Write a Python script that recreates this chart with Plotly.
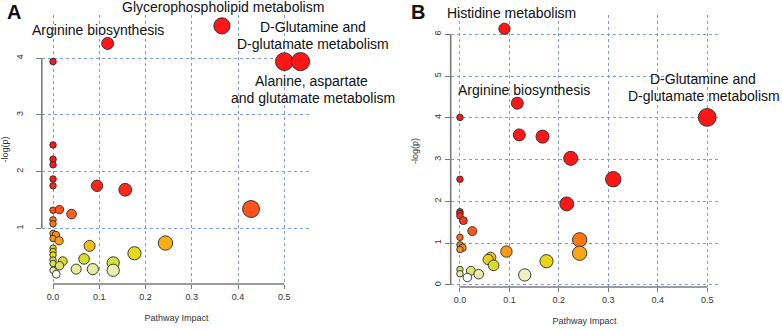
import numpy as np
import plotly.graph_objects as go

# ---------------- data ----------------
# Panel A
A_impact = [0.118, 0.365, 0.500, 0.535, 0.0, 0.0, 0.0, 0.0, 0.0, 0.0,
            0.095, 0.156, 0.0, 0.014, 0.040, 0.0, 0.0, 0.428, 0.0, 0.006,
            0.0, 0.013, 0.079, 0.243, 0.0, 0.0, 0.0, 0.176, 0.0, 0.021,
            0.0, 0.067, 0.014, 0.130, 0.050, 0.086, 0.130, 0.0, 0.007]
A_logp = [4.26, 4.57, 3.94, 3.94, 3.94, 2.47, 2.22, 2.12, 1.87, 1.75,
          1.75, 1.68, 1.32, 1.33, 1.25, 1.15, 1.08, 1.34, 0.91, 0.88,
          0.82, 0.78, 0.69, 0.74, 0.65, 0.59, 0.53, 0.56, 0.44, 0.42,
          0.38, 0.46, 0.34, 0.39, 0.28, 0.28, 0.26, 0.26, 0.19]

# Panel B
B_impact = [0.090, 0.116, 0.0, 0.120, 0.167, 0.224, 0.0, 0.500, 0.310, 0.216,
            0.0, 0.0, 0.0, 0.007, 0.025, 0.0, 0.0, 0.005, 0.0, 0.242,
            0.242, 0.094, 0.062, 0.057, 0.068, 0.175, 0.0, 0.0, 0.022, 0.038,
            0.015, 0.131]
B_logp = [6.13, 4.35, 4.01, 3.59, 3.55, 3.03, 2.53, 4.01, 2.53, 1.94,
          1.75, 1.71, 1.65, 1.54, 1.29, 1.14, 0.96, 0.89, 0.85, 1.08,
          0.76, 0.80, 0.66, 0.61, 0.47, 0.57, 0.37, 0.27, 0.34, 0.26,
          0.18, 0.24]

x_ticks = [0.0, 0.1, 0.2, 0.3, 0.4, 0.5]
x_ticktext = ["0.0", "0.1", "0.2", "0.3", "0.4", "0.5"]
A_yticks = [1, 2, 3, 4]
B_yticks = [0, 1, 2, 3, 4, 5, 6]

A_labels = ["Glycerophospholipid metabolism", "Arginine biosynthesis",
            "D-Glutamine and", "D-glutamate metabolism",
            "Alanine, aspartate", "and glutamate metabolism"]
B_labels = ["Histidine metabolism", "Arginine biosynthesis",
            "D-Glutamine and", "D-glutamate metabolism"]

# ---------------- styling ----------------
W, H = 782, 330
FONT = "Liberation Sans, Arial, sans-serif"
GRID = "#7f9ae2"
AXC = "#7a7a7a"

CMIN, CMAX = 0.18, 1.9
stops = [(0.18, "#ffffff"), (0.24, "#eef1c4"), (0.32, "#dde77a"),
         (0.40, "#d3e03c"), (0.48, "#d8dd2a"), (0.56, "#e4d91c"),
         (0.64, "#f0cb10"), (0.72, "#f7b414"), (0.80, "#fb9c14"),
         (1.05, "#ff7a16"), (1.30, "#ff561c"), (1.60, "#ff301a"),
         (1.90, "#ff1616")]
colorscale = [[(v - CMIN) / (CMAX - CMIN), c] for v, c in stops]


def sizes(impact):
    return list(6.5 + 16 * np.sqrt(np.array(impact)))


def px(x):
    return x / W


def py(y):
    return 1 - y / H


fig = go.Figure()
for imp, lp, xa, ya in [(A_impact, A_logp, "x", "y"), (B_impact, B_logp, "x2", "y2")]:
    fig.add_trace(go.Scatter(
        x=imp, y=lp, mode="markers", xaxis=xa, yaxis=ya, cliponaxis=False,
        marker=dict(size=sizes(imp), color=lp, colorscale=colorscale,
                    cmin=CMIN, cmax=CMAX, opacity=1,
                    line=dict(color="#2a2a2a", width=0.9)),
        showlegend=False, hoverinfo="x+y"))

common_x = dict(tickvals=x_ticks, ticktext=x_ticktext, showgrid=True,
                gridcolor=GRID, griddash="dot", gridwidth=1, zeroline=False,
                ticks="outside", ticklen=4, tickcolor=AXC, showline=False,
                tickfont=dict(size=9, color="#333", family=FONT),
                title=dict(text="Pathway Impact", font=dict(size=9, color="#333", family=FONT),
                           standoff=13))


def common_y(label_standoff, title_standoff):
    return dict(showgrid=True, gridcolor=GRID, griddash="dot", gridwidth=1,
                zeroline=False, ticks="outside", ticklen=5, tickcolor=AXC,
                showline=False, tickangle=-90, ticklabelstandoff=label_standoff,
                tickfont=dict(size=9, color="#333", family=FONT),
                title=dict(text="-log(p)", font=dict(size=9, color="#333", family=FONT),
                           standoff=title_standoff))


fig.update_layout(
    width=W, height=H, margin=dict(l=0, r=0, t=0, b=0), autosize=False,
    paper_bgcolor="white", plot_bgcolor="white",
    font=dict(family=FONT, color="#111"),
    xaxis=dict(domain=[px(38), px(309)], range=[-0.0243, 0.5585], anchor="y", **common_x),
    yaxis=dict(domain=[py(284), py(15)], range=[0.0176, 4.762], anchor="x",
               tickvals=A_yticks, **common_y(9, 9)),
    xaxis2=dict(domain=[px(449), px(718)], range=[-0.0187, 0.5225], anchor="y2", **common_x),
    yaxis2=dict(domain=[py(287), py(15)], range=[-0.048, 6.46], anchor="x2",
                tickvals=B_yticks, **common_y(0, 12)),
)

# R-style axis lines spanning only the tick range
shapes = [
    dict(type="line", xref="x domain", x0=0, x1=0, yref="y", y0=1, y1=4),
    dict(type="line", xref="x", x0=0, x1=0.5, yref="y domain", y0=0, y1=0),
    dict(type="line", xref="x2 domain", x0=0, x1=0, yref="y2", y0=0, y1=6),
    dict(type="line", xref="x2", x0=0, x1=0.5, yref="y2 domain", y0=0, y1=0),
]
for s in shapes:
    s["line"] = dict(color=AXC, width=1.6)
fig.update_layout(shapes=shapes)

ann = []
lab_font = dict(size=14, color="#111", family=FONT)


def add_text(text, cx, cy, font=lab_font):
    ann.append(dict(text=text, x=px(cx), y=py(cy), xref="paper", yref="paper",
                    showarrow=False, xanchor="center", yanchor="middle", font=font))


# panel letters
add_text("<b>A</b>", 10, 12, dict(size=20, color="#111", family=FONT))
add_text("<b>B</b>", 416, 12, dict(size=20, color="#111", family=FONT))

# Panel A labels
add_text(A_labels[0], 220.5, 7)
add_text(A_labels[1], 94.5, 30)
add_text(A_labels[2], 310.5, 27)
add_text(A_labels[3], 310.5, 44)
add_text(A_labels[4], 309.5, 81)
add_text(A_labels[5], 310.5, 98)

# Panel B labels
add_text(B_labels[0], 510, 13)
add_text(B_labels[1], 522.5, 90)
add_text(B_labels[2], 703, 79)
add_text(B_labels[3], 703.5, 96)

fig.update_layout(annotations=ann)
fig.write_html("out.html",
               config={"displayModeBar": False},
               post_script="document.body.style.margin='0';"
                           "document.body.style.padding='0';"
                           "document.body.style.overflow='hidden';")
